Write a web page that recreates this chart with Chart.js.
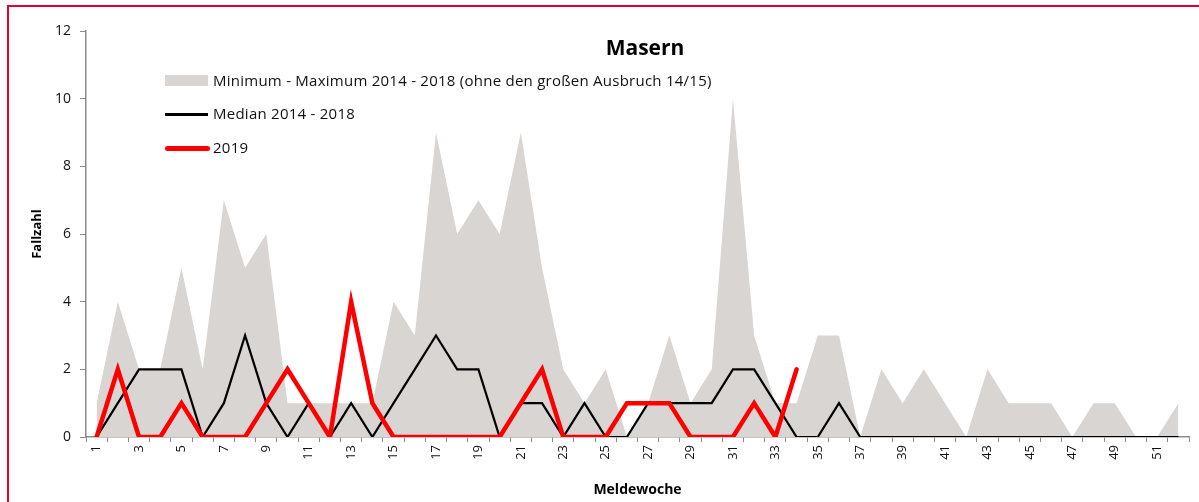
<!DOCTYPE html>
<html>
<head>
<meta charset="utf-8">
<script src="https://cdn.jsdelivr.net/npm/chart.js"></script>
<style>
  body { margin: 0; background: #fff; }
  #wrap { position: relative; width: 1199px; height: 502px; overflow: hidden; font-family: "Open Sans", sans-serif; }
  #frame { position: absolute; left: 7px; top: 5px; width: 1300px; height: 600px; border-left: 2px solid #e3002c; border-top: 2px solid #e3002c; }
  #title { position: absolute; left: 0; width: 1290px; top: 33px; text-align: center; font-weight: bold; font-size: 21px; color: #000; }
  .leg { position: absolute; left: 165px; font-size: 15px; letter-spacing: 0.25px; color: #111; }
  .leg span { position: absolute; left: 48px; white-space: nowrap; top: -11px; }
  .sym { position: absolute; left: 0; }
</style>
</head>
<body>
<div id="wrap">
  <div id="frame"></div>
  <canvas id="myChart"></canvas>
  <div id="title">Masern</div>
  <div class="leg" style="top:81px"><div class="sym" style="top:-6px;width:43px;height:11px;background:#d8d5d2"></div><span>Minimum - Maximum 2014 - 2018 (ohne den großen Ausbruch 14/15)</span></div>
  <div class="leg" style="top:114px"><div class="sym" style="top:-1px;width:43px;height:3px;background:#000"></div><span>Median 2014 - 2018</span></div>
  <div class="leg" style="top:148px"><div class="sym" style="top:-2px;width:45px;height:5px;background:#ff0000;border-radius:3px"></div><span>2019</span></div>
</div>
<script>
const weeks = [];
for (let w = 1; w <= 52; w++) weeks.push(String(w));

const maxValues = [1, 4, 2, 2, 5, 2, 7, 5, 6, 1, 1, 1, 1, 1, 4, 3, 9, 6, 7, 6,
                   9, 5, 2, 1, 2, 0, 1, 3, 1, 2, 10, 3, 1, 1, 3, 3, 0, 2, 1, 2,
                   1, 0, 2, 1, 1, 1, 0, 1, 1, 0, 0, 1];
const medianValues = [0, 1, 2, 2, 2, 0, 1, 3, 1, 0, 1, 0, 1, 0, 1, 2, 3, 2, 2, 0,
                      1, 1, 0, 1, 0, 0, 1, 1, 1, 1, 2, 2, 1, 0, 0, 1, 0, 0, 0, 0,
                      0, 0, 0, 0, 0, 0, 0, 0, 0, 0, 0, 0];
const values2019 = [0, 2, 0, 0, 1, 0, 0, 0, 1, 2, 1, 0, 4, 1, 0, 0, 0, 0, 0, 0,
                    1, 2, 0, 0, 0, 1, 1, 1, 0, 0, 0, 1, 0, 2];
const yTicks = [0, 2, 4, 6, 8, 10, 12];

const ctx = document.getElementById('myChart');

new Chart(ctx, {
  type: 'line',
  data: {
    labels: weeks,
    datasets: [{
      label: '2019',
      data: values2019,
      borderColor: '#ff0000',
      borderWidth: 4.5,
      pointRadius: 0,
      borderCapStyle: 'round',
      order: 1
    }, {
      label: 'Median 2014 - 2018',
      data: medianValues,
      borderColor: '#000000',
      borderWidth: 2.2,
      pointRadius: 0,
      order: 2
    }, {
      label: 'Minimum - Maximum 2014 - 2018 (ohne den großen Ausbruch 14/15)',
      data: maxValues,
      borderWidth: 0,
      borderColor: 'rgba(0,0,0,0)',
      backgroundColor: '#d8d5d2',
      fill: 'origin',
      pointRadius: 0,
      order: 3
    }]
  },
  options: {
    responsive: true,
    maintainAspectRatio: false,
    animation: false,
    layout: {
      padding: { left: 29, top: 31, right: 10, bottom: 4 }
    },
    plugins: {
      legend: { display: false },
      tooltip: { enabled: false }
    },
    scales: {
      x: {
        offset: true,
        afterFit: function (scale) { scale.height = 61; },
        grid: {
          offset: true,
          drawOnChartArea: false,
          tickLength: 5,
          color: '#8c8c8c'
        },
        border: { color: '#8c8c8c', width: 1.5 },
        ticks: {
          autoSkip: false,
          minRotation: 90,
          maxRotation: 90,
          padding: 3,
          color: '#111',
          font: { family: 'Open Sans', size: 13 },
          callback: function (val, index) {
            return index % 2 === 0 ? this.getLabelForValue(val) : '';
          }
        },
        title: {
          display: true,
          text: 'Meldewoche',
          color: '#000',
          padding: { top: 0, bottom: 0 },
          font: { family: 'Open Sans', size: 14, weight: 'bold' }
        }
      },
      y: {
        min: 0,
        max: 12,
        afterFit: function (scale) { scale.width = 57; },
        afterBuildTicks: function (scale) {
          scale.ticks = yTicks.map(function (v) { return { value: v }; });
        },
        grid: {
          drawOnChartArea: false,
          tickLength: 6,
          color: '#8c8c8c'
        },
        border: { color: '#8c8c8c', width: 1.5 },
        ticks: {
          padding: 9,
          color: '#111',
          font: { family: 'Open Sans', size: 14 }
        },
        title: {
          display: true,
          text: 'Fallzahl',
          color: '#000',
          padding: { top: 0, bottom: 0 },
          font: { family: 'Open Sans', size: 13, weight: 'bold' }
        }
      }
    }
  }
});
</script>
</body>
</html>
